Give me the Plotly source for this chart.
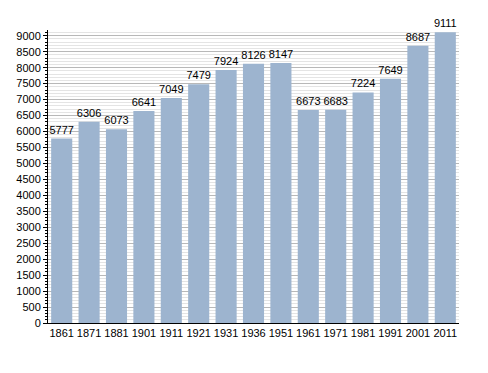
import plotly.graph_objects as go

years = ["1861", "1871", "1881", "1901", "1911", "1921", "1931", "1936",
         "1951", "1961", "1971", "1981", "1991", "2001", "2011"]
population = [5777, 6306, 6073, 6641, 7049, 7479, 7924, 8126,
              8147, 6673, 6683, 7224, 7649, 8687, 9111]
y_tickvals = list(range(0, 9001, 500))

fig = go.Figure(go.Bar(
    x=years, y=population,
    marker=dict(color="#9db4cf", line=dict(width=0)),
    text=[str(v) for v in population],
    textposition="outside",
    constraintext="none",
    textfont=dict(family="Liberation Sans, Arial", size=11, color="#000"),
    cliponaxis=False,
))

# page body has an 8px margin, so the figure is 8px smaller than the window
fig.update_layout(
    width=480, height=365,
    margin=dict(l=40, r=29, t=22, b=50, autoexpand=False),
    paper_bgcolor="white", plot_bgcolor="white",
    bargap=0.23,
    showlegend=False,
    font=dict(family="Liberation Sans, Arial", size=11, color="#000"),
)
fig.update_xaxes(
    type="category", automargin=False,
    showline=True, linecolor="#000", linewidth=1,
    ticks="", showgrid=False,
    tickfont=dict(size=11),
)
fig.update_yaxes(
    range=[0, 9180], automargin=False,
    tickvals=y_tickvals,
    showline=True, linecolor="#000", linewidth=1,
    ticks="outside", ticklen=4, tickcolor="#000",
    showgrid=True, gridcolor="#b8b8b8", gridwidth=1,
    zeroline=False,
    minor=dict(dtick=100, tick0=0, showgrid=True, gridcolor="#e4e4e4",
               ticks="outside", ticklen=2, tickcolor="#000"),
    tickfont=dict(size=11),
)

fig.write_html("out.html")
